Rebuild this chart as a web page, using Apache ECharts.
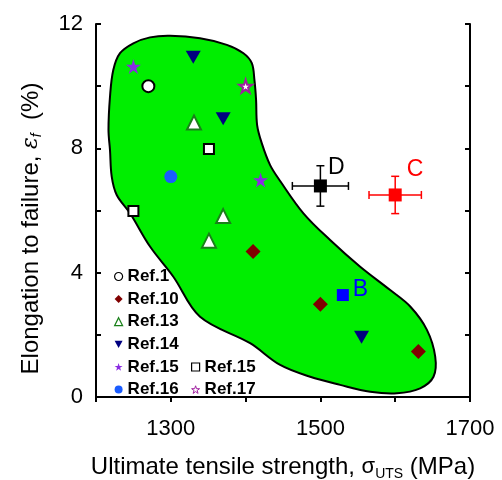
<!DOCTYPE html>
<html>
<head>
<meta charset="utf-8">
<script src="https://cdn.jsdelivr.net/npm/echarts@6/dist/echarts.min.js"></script>
<style>html,body{margin:0;padding:0;background:#fff;}#main{width:502px;height:480px;}</style>
</head>
<body>
<div id="main"></div>
<script>
// ---- data ----
const xMin = 1200, xMax = 1700, yMin = 0, yMax = 12;
const xTickLabels = [1300, 1500, 1700];
const yTickLabels = [0, 4, 8, 12];

const ref1X = [1270], ref1Y = [10.0];
const ref10X = [1410, 1500, 1631], ref10Y = [4.68, 2.98, 1.46];
const ref13X = [1331, 1370, 1351], ref13Y = [8.83, 5.82, 5.03];
const ref14X = [1330, 1370, 1555], ref14Y = [10.93, 8.95, 1.92];
const ref15X = [1250, 1420], ref15Y = [10.63, 6.98];
const ref15bX = [1351, 1250], ref15bY = [7.98, 5.98];
const ref16X = [1300], ref16Y = [7.09];
const ref17X = [1400], ref17Y = [10.0];

const pointB = [1530, 3.28];
const pointD = [1500, 6.79], errD = [37.5, 0.65];
const pointC = [1600, 6.5], errC = [35, 0.6];

const regionX = [1272.2,1299.0,1339.1,1374.9,1397.1,1408.3,1411.8,1414,1415.4,1421.7,1432.8,1446.2,1477.3,1513,1553.2,1593.3,1620.1,1642.4,1653.5,1651.2,1633.4,1602.3,1566.6,1526.4,1486.3,1446.2,1406,1339.1,1303.4,1272.2,1245.5,1227.7,1221,1218.7,1216.7,1218.7,1223.1,1232.1,1249.9];
const regionY = [11.57,11.62,11.54,11.33,11.06,10.74,10.20,9.56,8.75,8.16,7.46,6.95,5.91,5.05,4.19,3.44,2.91,2.16,1.30,0.65,0.28,0.12,0.17,0.39,0.65,1.03,1.73,2.58,3.87,4.84,5.91,6.50,7.09,7.95,8.59,9.66,10.52,11.06,11.38];

const zip = (xs, ys) => xs.map((x, i) => [x, ys[i]]);
const STAR = 'path://M50,0 L61.23,34.55 L97.55,34.55 L68.17,55.9 L79.39,90.45 L50,69.1 L20.61,90.45 L31.83,55.9 L2.45,34.55 L38.77,34.55 Z';
const DOWN_TRI = 'path://M0,0 L10,0 L5,9 Z';
const FONT = "'Liberation Sans', Arial, sans-serif";

function errorSeries(pt, err, color) {
  return {
    type: 'custom', z: 4, silent: true,
    data: [[pt[0], pt[1], err[0], err[1]]],
    renderItem: function (params, api) {
      const x = api.value(0), y = api.value(1), ex = api.value(2), ey = api.value(3);
      const l = api.coord([x - ex, y]), r = api.coord([x + ex, y]);
      const t = api.coord([x, y + ey]), b = api.coord([x, y - ey]);
      const cap = 4;
      const st = { stroke: color, lineWidth: 1.5 };
      return {
        type: 'group',
        children: [
          { type: 'line', shape: { x1: l[0], y1: l[1], x2: r[0], y2: r[1] }, style: st },
          { type: 'line', shape: { x1: l[0], y1: l[1] - cap, x2: l[0], y2: l[1] + cap }, style: st },
          { type: 'line', shape: { x1: r[0], y1: r[1] - cap, x2: r[0], y2: r[1] + cap }, style: st },
          { type: 'line', shape: { x1: t[0], y1: t[1], x2: b[0], y2: b[1] }, style: st },
          { type: 'line', shape: { x1: t[0] - cap, y1: t[1], x2: t[0] + cap, y2: t[1] }, style: st },
          { type: 'line', shape: { x1: b[0] - cap, y1: b[1], x2: b[0] + cap, y2: b[1] }, style: st }
        ]
      };
    }
  };
}

const chart = echarts.init(document.getElementById('main'), null, { renderer: 'canvas' });
const axisLine = { show: true, lineStyle: { color: '#000', width: 2 } };
const legendText = { fontSize: 17, fontWeight: 'bold', color: '#000', fontFamily: FONT, lineHeight: 17 };
const option = {
  animation: false,
  backgroundColor: '#fff',
  textStyle: { fontFamily: FONT },
  grid: { left: 96, right: 32, top: 24, bottom: 83, containLabel: false, outerBoundsMode: 'none' },
  xAxis: [
    {
      type: 'value', min: xMin, max: xMax, interval: 100, position: 'bottom',
      axisLine: axisLine, splitLine: { show: false },
      axisTick: { show: true, inside: false, length: 5, lineStyle: { color: '#000', width: 2 } },
      axisLabel: { customValues: xTickLabels, formatter: v => String(v), color: '#000', fontSize: 22, fontFamily: FONT, margin: 21 },
      name: '{t|Ultimate tensile strength, }{s|σ}{sub|UTS}{t| (MPa)}',
      nameLocation: 'middle', nameGap: 56,
      nameTextStyle: {
        rich: {
          t: { fontSize: 24, color: '#000', fontFamily: FONT },
          s: { fontSize: 22, color: '#000', fontFamily: FONT },
          sub: { fontSize: 14, color: '#000', fontFamily: FONT, verticalAlign: 'bottom', padding: [14, 0, 0, 0] }
        }
      }
    },
    {
      type: 'value', min: xMin, max: xMax, interval: 100, position: 'top',
      axisLine: axisLine, splitLine: { show: false },
      axisTick: { show: true, inside: true, length: 4, lineStyle: { color: '#000', width: 2 } },
      axisLabel: { show: false }
    }
  ],
  yAxis: [
    {
      type: 'value', min: yMin, max: yMax, interval: 2, position: 'left',
      axisLine: axisLine, splitLine: { show: false },
      axisTick: { show: true, inside: true, length: 5, lineStyle: { color: '#000', width: 2 } },
      axisLabel: { customValues: yTickLabels, formatter: v => String(v), color: '#000', fontSize: 22, fontFamily: FONT, margin: 13 },
      name: '{t|Elongation to failure, }{e|ε}{sub|f}{t|  (%)}',
      nameLocation: 'middle', nameRotate: 90, nameGap: 52,
      nameTextStyle: {
        padding: [0, 36, 0, 0],
        rich: {
          t: { fontSize: 24, color: '#000', fontFamily: FONT },
          e: { fontSize: 22, color: '#000', fontFamily: "'DejaVu Serif', serif", fontStyle: 'italic' },
          sub: { fontSize: 14, color: '#000', fontFamily: FONT, fontStyle: 'italic', verticalAlign: 'bottom', padding: [12, 0, 0, 0] }
        }
      }
    },
    {
      type: 'value', min: yMin, max: yMax, interval: 2, position: 'right',
      axisLine: axisLine, splitLine: { show: false },
      axisTick: { show: true, inside: true, length: 5, lineStyle: { color: '#000', width: 2 } },
      axisLabel: { show: false }
    }
  ],
  legend: [
    {
      orient: 'vertical', left: 109, top: 263, itemWidth: 8, itemHeight: 8, itemGap: 5.6,
      data: [
        { name: 'Ref.1', itemStyle: { borderWidth: 1.2 } },
        'Ref.10',
        { name: 'Ref.13', itemStyle: { borderWidth: 1.2 } },
        { name: 'Ref.14', icon: DOWN_TRI },
        'Ref.15',
        'Ref.16'
      ],
      textStyle: legendText,
      selectedMode: false
    },
    {
      orient: 'vertical', left: 186, top: 353.5, itemWidth: 8, itemHeight: 8, itemGap: 5.6,
      data: [
        { name: 'Ref.15b', itemStyle: { borderWidth: 1.2 } },
        { name: 'Ref.17', icon: STAR, itemStyle: { borderWidth: 1 } }
      ],
      formatter: function (n) { return n === 'Ref.15b' ? 'Ref.15' : n; },
      textStyle: legendText,
      selectedMode: false
    }
  ],
  series: [
    {
      type: 'custom', name: 'region', z: 1, silent: true,
      data: [[regionX[0], regionY[0]]],
      renderItem: function (params, api) {
        const pts = regionX.map((x, i) => api.coord([x, regionY[i]]));
        return {
          type: 'polygon',
          shape: { points: pts, smooth: 0.35 },
          style: { fill: '#00ee00', stroke: '#000', lineWidth: 2 }
        };
      }
    },
    { type: 'scatter', name: 'Ref.1', z: 3, data: zip(ref1X, ref1Y), symbol: 'circle', symbolSize: 12,
      itemStyle: { color: '#fff', borderColor: '#000', borderWidth: 2, opacity: 1 } },
    { type: 'scatter', name: 'Ref.10', z: 3, data: zip(ref10X, ref10Y), symbol: 'diamond', symbolSize: 15,
      itemStyle: { color: '#800000', opacity: 1 } },
    { type: 'scatter', name: 'Ref.13', z: 3, data: zip(ref13X, ref13Y), symbol: 'triangle', symbolSize: 14,
      itemStyle: { color: '#fff', borderColor: '#1a801a', borderWidth: 2, opacity: 1 } },
    { type: 'scatter', name: 'Ref.14', z: 3, data: zip(ref14X, ref14Y), symbol: 'triangle', symbolRotate: 180, symbolSize: [15, 13],
      itemStyle: { color: '#000080', opacity: 1 } },
    { type: 'scatter', name: 'Ref.15', z: 3, data: zip(ref15X, ref15Y), symbol: STAR, symbolSize: 15,
      itemStyle: { color: '#8a2be2', opacity: 1 } },
    { type: 'scatter', name: 'Ref.15b', z: 3, data: zip(ref15bX, ref15bY), symbol: 'rect', symbolSize: 10,
      itemStyle: { color: '#fff', borderColor: '#000', borderWidth: 2, opacity: 1 } },
    { type: 'scatter', name: 'Ref.16', z: 3, data: zip(ref16X, ref16Y), symbol: 'circle', symbolSize: 13,
      itemStyle: { color: '#1a5cff', opacity: 1 } },
    { type: 'scatter', name: 'Ref.17', z: 3, data: zip(ref17X, ref17Y), symbol: STAR, symbolSize: 13,
      itemStyle: { color: '#fff', borderColor: '#a020a0', borderWidth: 2, opacity: 1 } },
    { type: 'scatter', name: 'B', z: 3, data: [pointB], symbol: 'rect', symbolSize: 12,
      itemStyle: { color: '#0000ff', opacity: 1 },
      label: { show: true, formatter: 'B', position: 'right', distance: 4, offset: [0, -5], color: '#0000ff', fontSize: 23, fontFamily: FONT } },
    errorSeries(pointD, errD, '#000'),
    errorSeries(pointC, errC, '#ff0000'),
    { type: 'scatter', name: 'D', z: 5, data: [pointD], symbol: 'rect', symbolSize: 13,
      itemStyle: { color: '#000', opacity: 1 },
      label: { show: true, formatter: 'D', position: 'right', distance: 1, offset: [0, -18], color: '#000', fontSize: 23, fontFamily: FONT } },
    { type: 'scatter', name: 'C', z: 5, data: [pointC], symbol: 'rect', symbolSize: 13,
      itemStyle: { color: '#ff0000', opacity: 1 },
      label: { show: true, formatter: 'C', position: 'right', distance: 5, offset: [0, -25], color: '#ff0000', fontSize: 23, fontFamily: FONT } }
  ]
};
chart.setOption(option);
</script>
</body>
</html>
